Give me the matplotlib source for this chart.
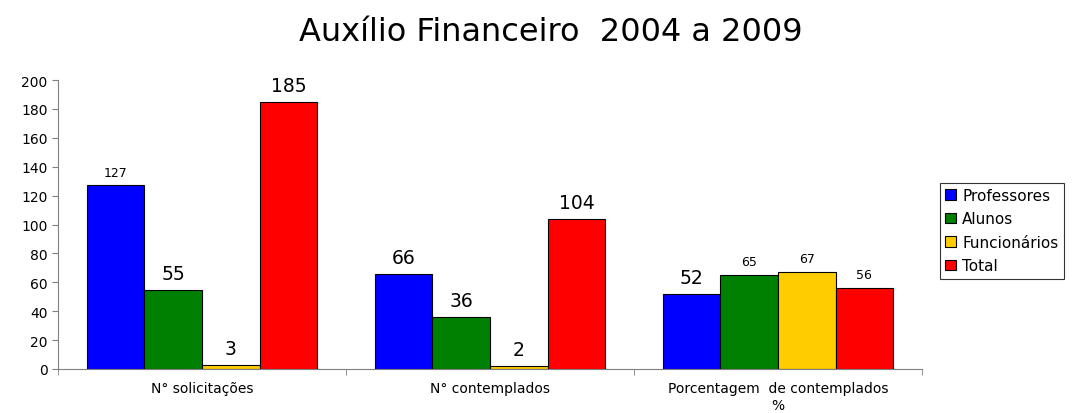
import numpy as np
import matplotlib
matplotlib.use('Agg')
import matplotlib.pyplot as plt

# Data
categories = ['N° solicitações', 'N° contemplados', 'Porcentagem  de contemplados\n%']
series = ['Professores', 'Alunos', 'Funcionários', 'Total']
professores = [127, 66, 52]
alunos = [55, 36, 65]
funcionarios = [3, 2, 67]
total = [185, 104, 56]

colors = ['#0000FF', '#008000', '#FFCC00', '#FF0000']
# font size of each value label (the original mixes two sizes)
label_sizes = [[9, 13.5, 13.5], [13.5, 13.5, 9], [13.5, 13.5, 9], [13.5, 13.5, 9]]

values = [professores, alunos, funcionarios, total]

fig = plt.figure(figsize=(10.88, 4.14), dpi=100)
ax = fig.add_axes([0.0533, 0.1063, 0.7941, 0.698])

x = np.arange(len(categories))
width = 0.2
for i, (name, vals) in enumerate(zip(series, values)):
    pos = x - 0.4 + width * i + width / 2
    ax.bar(pos, vals, width, color=colors[i], edgecolor='black', linewidth=0.8, label=name)
    for p, v, s in zip(pos, vals, label_sizes[i]):
        ax.annotate(str(v), (p, v), xytext=(0, 5), textcoords='offset points',
                    ha='center', va='bottom', fontsize=s)

ax.set_xlim(-0.5, len(categories) - 0.5)
ax.set_ylim(0, 200)
ax.set_yticks(range(0, 201, 20))
ax.tick_params(axis='y', labelsize=10, length=4, color='#808080')
ax.set_xticks(x)
ax.set_xticklabels(categories, fontsize=10)
ax.tick_params(axis='x', length=0, pad=9)
ax.set_xticks(np.arange(-0.5, len(categories), 1), minor=True)
ax.tick_params(axis='x', which='minor', length=4, color='#808080')

for side in ['top', 'right']:
    ax.spines[side].set_visible(False)
for side in ['left', 'bottom']:
    ax.spines[side].set_color('#808080')

fig.suptitle('Auxílio Financeiro  2004 a 2009', fontsize=23, x=0.506, y=0.96)

leg = ax.legend(loc='upper left', bbox_to_anchor=(1.012, 0.671), frameon=True, fancybox=False,
                edgecolor='black', fontsize=11, handlelength=0.7, handleheight=0.7,
                handletextpad=0.4, borderpad=0.35, labelspacing=0.55)
leg.get_frame().set_linewidth(0.8)

fig.savefig('out.png', dpi=100)
